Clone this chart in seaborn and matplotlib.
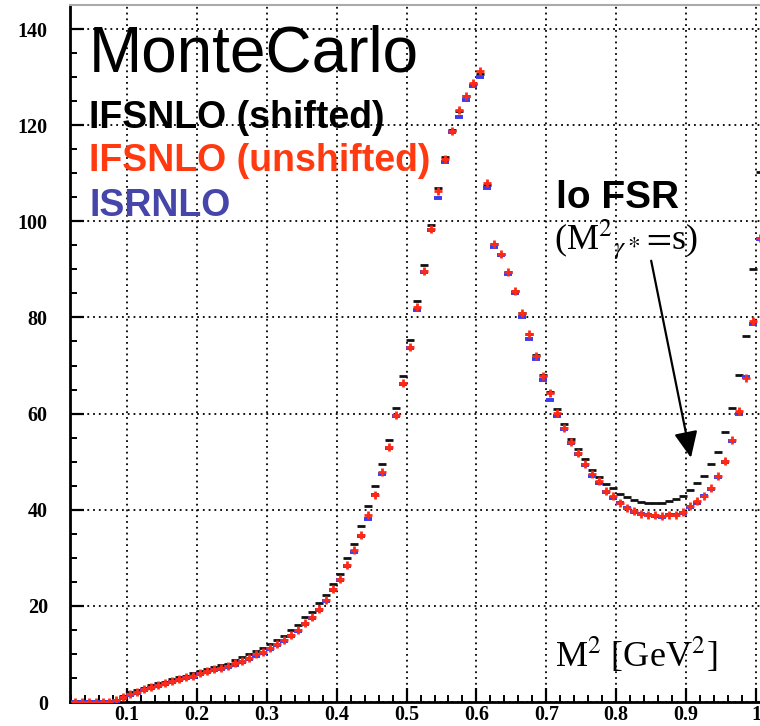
import numpy as np
import pandas as pd
import matplotlib
matplotlib.use("Agg")
import matplotlib.pyplot as plt
import seaborn as sns
from matplotlib.ticker import MultipleLocator

# ---------------- data ----------------
m2 = [0.025, 0.035, 0.045, 0.055, 0.065, 0.075, 0.085, 0.095,
      0.105, 0.115, 0.125, 0.135, 0.145, 0.155, 0.165, 0.175, 0.185, 0.195,
      0.205, 0.215, 0.225, 0.235, 0.245, 0.255, 0.265, 0.275, 0.285, 0.295,
      0.305, 0.315, 0.325, 0.335, 0.345, 0.355, 0.365, 0.375, 0.385, 0.395,
      0.405, 0.415, 0.425, 0.435, 0.445, 0.455, 0.465, 0.475, 0.485, 0.495,
      0.505, 0.515, 0.525, 0.535, 0.545, 0.555, 0.565, 0.575, 0.585, 0.595,
      0.605, 0.615, 0.625, 0.635, 0.645, 0.655, 0.665, 0.675, 0.685, 0.695,
      0.705, 0.715, 0.725, 0.735, 0.745, 0.755, 0.765, 0.775, 0.785, 0.795,
      0.805, 0.815, 0.825, 0.835, 0.845, 0.855, 0.865, 0.875, 0.885, 0.895,
      0.905, 0.915, 0.925, 0.935, 0.945, 0.955, 0.965, 0.975, 0.985, 0.995,
      1.005]

ifsnlo_shifted = [0, 0, 0, 0, 0, 0, 0.5, 1.2,
                  2.0, 2.4, 3.0, 3.5, 3.9, 4.2, 4.7, 5.1, 5.5, 6.0,
                  6.5, 6.9, 7.2, 7.6, 7.9, 8.7, 9.3, 9.9, 10.7, 11.3,
                  12.0, 12.8, 13.8, 15.0, 16.0, 17.6, 18.8, 20.6, 22.3, 24.5,
                  26.7, 29.9, 32.9, 36.6, 40.7, 44.9, 49.6, 54.5, 61.2, 67.9,
                  75.4, 83.5, 91.0, 99.2, 106.9, 113.3, 118.9, 123.0, 126.0, 128.5,
                  130.6, 107.6, 95.2, 93.2, 89.4, 85.6, 81.0, 76.6, 72.2, 68.0,
                  64.4, 61.0, 57.8, 54.8, 52.6, 50.6, 48.3, 46.9, 45.4, 44.5,
                  43.3, 42.6, 42.0, 41.6, 41.3, 41.3, 41.4, 41.8, 42.2, 42.8,
                  44.2, 45.6, 47.1, 49.6, 52.1, 56.2, 61.2, 68.1, 76.2, 90.1,
                  110.3]

ifsnlo_unshifted = [0, 0, 0, 0, 0, 0, 0.4, 1.0,
                    1.7, 2.1, 2.7, 3.2, 3.6, 3.9, 4.3, 4.7, 5.1, 5.5,
                    6.0, 6.4, 6.8, 7.1, 7.5, 8.1, 8.6, 9.2, 9.9, 10.5,
                    11.3, 12.1, 13.0, 14.0, 15.0, 16.4, 17.7, 19.4, 21.2, 23.6,
                    25.6, 28.4, 31.6, 34.8, 39.0, 43.1, 47.9, 53.1, 59.7, 66.4,
                    73.8, 82.1, 89.7, 98.4, 106.3, 112.9, 118.8, 123.2, 126.0, 128.8,
                    131.2, 107.9, 95.3, 93.3, 89.5, 85.6, 81.0, 76.5, 72.0, 67.8,
                    64.2, 60.2, 57.0, 54.1, 51.9, 49.6, 47.4, 45.9, 43.9, 42.9,
                    41.5, 40.4, 39.7, 39.2, 38.9, 38.8, 38.6, 38.8, 39.0, 39.6,
                    40.7, 41.8, 42.9, 44.6, 47.0, 50.2, 54.5, 60.5, 67.5, 79.2,
                    96.6]

isrnlo = [0, 0, 0, 0, 0, 0, 0.3, 0.9,
          1.5, 1.9, 2.5, 3.0, 3.4, 3.7, 4.1, 4.5, 4.9, 5.3,
          5.8, 6.2, 6.6, 6.9, 7.3, 7.8, 8.3, 8.9, 9.6, 10.2,
          11.0, 11.8, 12.7, 13.7, 14.8, 16.2, 17.5, 19.2, 21.0, 23.3,
          25.4, 28.2, 31.3, 34.5, 38.1, 43.0, 47.4, 52.9, 59.6, 66.2,
          73.7, 81.5, 89.4, 98.2, 104.9, 112.3, 118.5, 121.8, 125.2, 128.1,
          130.0, 107.0, 94.7, 92.9, 89.0, 85.1, 80.0, 75.5, 71.3, 67.0,
          62.8, 59.4, 56.8, 53.8, 51.5, 49.3, 47.0, 45.6, 43.7, 42.4,
          41.3, 40.3, 39.6, 39.1, 38.8, 38.6, 38.5, 38.8, 38.9, 39.4,
          40.6, 41.5, 42.8, 44.4, 46.8, 50.0, 54.2, 59.9, 67.7, 78.6,
          96.4]

x_ticks = [0.1, 0.2, 0.3, 0.4, 0.5, 0.6, 0.7, 0.8, 0.9, 1.0]
x_tick_labels = ["0.1", "0.2", "0.3", "0.4", "0.5", "0.6", "0.7", "0.8", "0.9", "1"]
y_ticks = [0, 20, 40, 60, 80, 100, 120, 140]
y_tick_labels = ["0", "20", "40", "60", "80", "100", "120", "140"]

df_shift = pd.DataFrame({"m2": m2, "n": ifsnlo_shifted})
df_unshift = pd.DataFrame({"m2": m2, "n": ifsnlo_unshifted})
df_isr = pd.DataFrame({"m2": m2, "n": isrnlo})

# ---------------- style ----------------
sns.set_theme(style="white")
plt.rcParams["font.family"] = ["Liberation Sans", "DejaVu Sans"]
plt.rcParams["mathtext.fontset"] = "stix"

fig = plt.figure(figsize=(7.6, 7.26), dpi=100)
ax = fig.add_axes([70 / 760, 24 / 726, 690 / 760, 697 / 726])

BLACK = "#111111"
RED = "#ff2a14"
BLUE = "#3b3bf0"

sns.scatterplot(data=df_shift, x="m2", y="n", ax=ax, marker="_", s=30,
                color=BLACK, linewidth=2.0, zorder=3)
sns.scatterplot(data=df_isr, x="m2", y="n", ax=ax, marker="_", s=30,
                color=BLUE, linewidth=2.8, zorder=4)
sns.scatterplot(data=df_unshift, x="m2", y="n", ax=ax, marker="+", s=40,
                color=RED, linewidth=2.0, zorder=5)

ax.set_xlim(0.0185, 1.0057)
ax.set_ylim(0, 145)
ax.set_xlabel("")
ax.set_ylabel("")

ax.set_xticks(x_ticks)
ax.set_xticklabels(x_tick_labels)
ax.set_yticks(y_ticks)
ax.set_yticklabels(y_tick_labels)
ax.xaxis.set_minor_locator(MultipleLocator(0.02))
ax.yaxis.set_minor_locator(MultipleLocator(5))

for lab in ax.get_xticklabels() + ax.get_yticklabels():
    lab.set_fontfamily(["Liberation Serif", "DejaVu Serif"])
    lab.set_fontweight("bold")
    lab.set_fontsize(14.5)
    lab.set_color("black")

ax.tick_params(axis="both", which="major", direction="in", length=10, width=1.6,
               color="black", left=True, bottom=True)
ax.tick_params(axis="both", which="minor", direction="in", length=5, width=1.4,
               color="black", left=True, bottom=True)
ax.tick_params(axis="y", which="major", pad=16)
ax.tick_params(axis="x", which="major", pad=2.5)

ax.grid(True, which="major", color="black", linestyle=(0, (1, 2.2)), linewidth=1.3)
ax.set_axisbelow(True)

for side in ["left", "bottom"]:
    ax.spines[side].set_color("black")
    ax.spines[side].set_linewidth(2)
ax.spines["top"].set_color("#aaaaaa")
ax.spines["top"].set_linewidth(1.5)
ax.spines["right"].set_visible(False)

# ---------------- annotations ----------------
def px(xp, yp):
    """figure pixel (from top-left) -> figure fraction"""
    return xp / 760, 1 - yp / 726

sans = ["Liberation Sans", "DejaVu Sans"]
serif = ["Liberation Serif", "DejaVu Serif"]

fig.text(*px(89, 71), "MonteCarlo", fontsize=46, color="black",
         family=sans, va="baseline", ha="left")
fig.text(*px(89, 128), "IFSNLO (shifted)", fontsize=27, fontweight="bold",
         color="black", family=sans, va="baseline")
fig.text(*px(89, 171), "IFSNLO (unshifted)", fontsize=27, fontweight="bold",
         color="#ff3a10", family=sans, va="baseline")
fig.text(*px(89, 216), "ISRNLO", fontsize=27, fontweight="bold",
         color="#4646aa", family=sans, va="baseline")

fig.text(*px(556, 208), "lo FSR", fontsize=28, fontweight="bold",
         color="black", family=sans, va="baseline")
fig.text(*px(554, 250), r"(M$^{2}{}_{\gamma *}\!=\!$s)", fontsize=26,
         color="black", family=serif, va="baseline")
fig.text(*px(555, 667), r"M$^2$ [GeV$^2$]", fontsize=26,
         color="black", family=serif, va="baseline")

# arrow pointing at the low FSR region
ax.annotate("", xy=(0.9069, 50.8), xytext=(0.8500, 91.8),
            arrowprops=dict(arrowstyle="-|>,head_length=0.8,head_width=0.36",
                            mutation_scale=20, lw=1.6, color="black",
                            shrinkA=0, shrinkB=0))

fig.savefig("out.png", dpi=100)
